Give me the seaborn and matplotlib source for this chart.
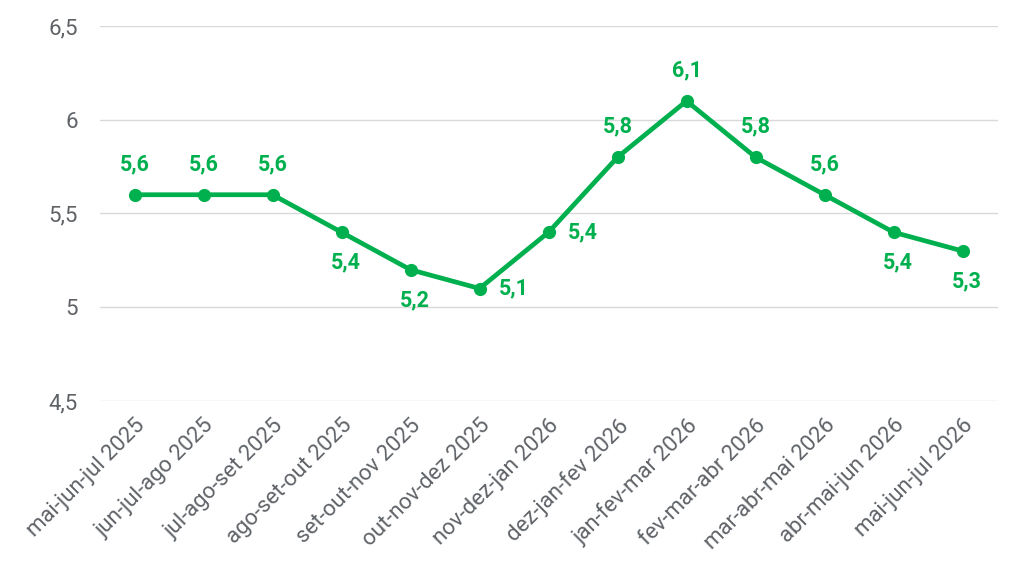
import matplotlib
matplotlib.use("Agg")
import matplotlib.pyplot as plt
import seaborn as sns
import pandas as pd

categories = ["mai-jun-jul 2025", "jun-jul-ago 2025", "jul-ago-set 2025", "ago-set-out 2025",
              "set-out-nov 2025", "out-nov-dez 2025", "nov-dez-jan 2026", "dez-jan-fev 2026",
              "jan-fev-mar 2026", "fev-mar-abr 2026", "mar-abr-mai 2026", "abr-mai-jun 2026",
              "mai-jun-jul 2026"]
values = [5.6, 5.6, 5.6, 5.4, 5.2, 5.1, 5.4, 5.8, 6.1, 5.8, 5.6, 5.4, 5.3]
label_pos = ["above", "above", "above", "below", "below", "right", "right", "above",
             "above", "above", "above", "below", "below"]
y_ticks = [4.5, 5.0, 5.5, 6.0, 6.5]

sns.set_theme(style="white")
plt.rcParams['font.family'] = ['Roboto', 'DejaVu Sans']

GREEN = "#00B04F"
GRAY = "#5f6368"

df = pd.DataFrame({"x": range(len(categories)), "v": values})

fig = plt.figure(figsize=(10.24, 5.77), dpi=100)
ax = fig.add_axes([0.0977, 0.305, 0.8773, 0.65])

sns.lineplot(data=df, x="x", y="v", ax=ax, color=GREEN, linewidth=3.4,
             marker="o", markersize=9.5, markeredgewidth=0, markeredgecolor=GREEN)

for i, (v, p) in enumerate(zip(values, label_pos)):
    txt = f"{v:.1f}".replace(".", ",")
    if p == "above":
        off, ha, va = (0, 22), "center", "center"
    elif p == "below":
        off, ha, va = (3, -22), "center", "center"
    else:
        off, ha, va = (14, 0), "left", "center"
    ax.annotate(txt, (i, v), xytext=off, textcoords="offset points", ha=ha, va=va,
                color=GREEN, fontsize=15.5, fontweight="bold")

ax.set_xlim(-0.5, len(categories) - 0.48)
ax.set_ylim(4.5, 6.5)
ax.set_yticks(y_ticks)
ax.set_yticklabels([f"{t:g}".replace(".", ",") for t in y_ticks])
ax.set_xticks(range(len(categories)))
ax.set_xticklabels(categories, rotation=45, ha="right", rotation_mode="anchor")
ax.tick_params(axis="both", length=0, labelsize=16, labelcolor=GRAY)
ax.tick_params(axis="y", pad=16)
ax.tick_params(axis="x", pad=10)
ax.yaxis.grid(True, color="#d9d9d9", linewidth=1)
ax.xaxis.grid(False)
ax.set_axisbelow(True)
for s in ax.spines.values():
    s.set_visible(False)
ax.set_xlabel("")
ax.set_ylabel("")

fig.savefig("out.png", dpi=100)
